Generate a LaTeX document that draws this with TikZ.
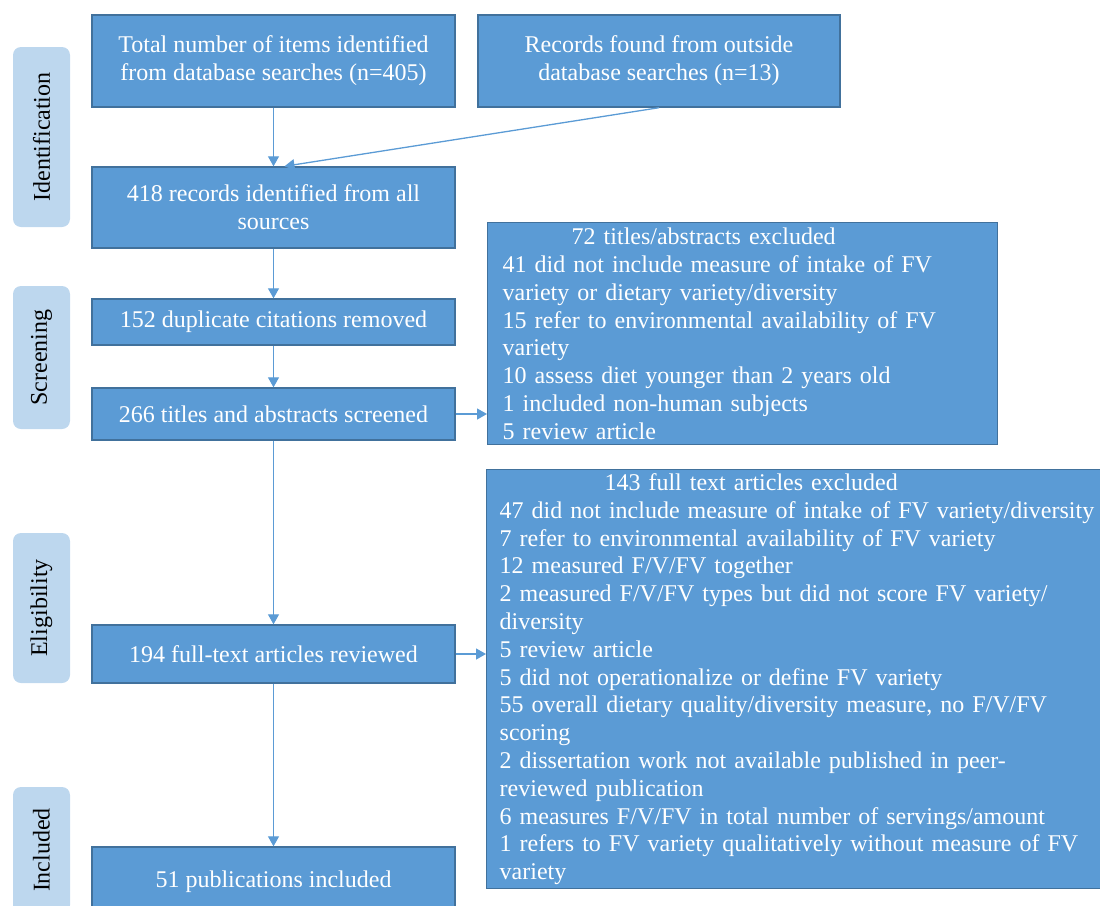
\documentclass[tikz,border=0pt]{standalone}
\usepackage{fontspec}
\setmainfont{Liberation Serif}
\usepackage{tikz}
\usetikzlibrary{arrows.meta}
\definecolor{boxcolor}{RGB}{91,155,213}
\definecolor{edgecolor}{RGB}{65,113,156}
\definecolor{stagecolor}{RGB}{189,215,238}
\tikzset{
  box/.style={draw=edgecolor, line width=1.4pt, fill=boxcolor, text=white, align=center,
    minimum width=363, inner sep=0pt, font=\fontsize{24}{27.8}\selectfont},
  excl/.style={draw=edgecolor, line width=1.4pt, fill=boxcolor, text=white, align=left,
    anchor=north west, inner ysep=0pt, font=\fontsize{24}{27.8}\selectfont},
  stage/.style={fill=stagecolor, rounded corners=8pt, minimum width=57, inner sep=0pt},
  stagetext/.style={rotate=90, font=\fontsize{24}{27.8}\selectfont},
  flow/.style={draw=boxcolor, line width=1.3pt, -{Triangle[width=11pt,length=10pt]}}
}

\begin{document}
\begin{tikzpicture}[x=1pt, y=-1pt]
\useasboundingbox (0,0) rectangle (1100,905);

% Stage labels on the left
\def\stagex{41.5}
\node[stage, minimum height=180] (sid) at (\stagex,137) {};
\node[stagetext] (tid) at (sid.center) {Identification};
\node[stage, minimum height=143] (sscr) at (\stagex,357.5) {};
\node[stagetext] (tscr) at (sscr.center) {Screening};
\node[stage, minimum height=150] (selg) at (\stagex,608) {};
\node[stagetext] (telg) at (selg.center) {Eligibility};
\node[stage, minimum height=126] (sinc) at (\stagex,850) {};
\node[stagetext] (tinc) at (sinc.center) {Included};

% Main column
\def\mainx{273.5}
\node[box, minimum height=92] (total) at (\mainx,61) {Total number of items identified\\from database searches (n=405)};
\node[box, minimum height=92, minimum width=362] (outside) at (659,61) {Records found from outside\\database searches (n=13)};
\node[box, minimum height=81] (allsrc) at (\mainx,207.5) {418 records identified from all\\sources};
\node[box, minimum height=46] (dupl) at (\mainx,322) {152 duplicate citations removed};
\node[box, minimum height=52] (screen) at (\mainx,414) {266 titles and abstracts screened};
\node[box, minimum height=58] (fulltext) at (\mainx,654) {194 full-text articles reviewed};
\node[box, minimum height=70] (incl) at (\mainx,882) {51 publications included};

% Exclusion boxes
\node[excl, inner xsep=15pt, text width=480pt, minimum width=510, minimum height=222] (exclabs) at (487,222)
  {\makebox[402pt]{72 titles/abstracts excluded}\\
   41 did not include measure of intake of FV\\
   variety or dietary variety/diversity\\
   15 refer to environmental availability of FV\\
   variety\\
   10 assess diet younger than 2 years old\\
   1 included non-human subjects\\
   5 review article};
\node[excl, inner xsep=13pt, text width=600pt, minimum width=626, minimum height=419] (exclfull) at (486,469)
  {\makebox[503pt]{143 full text articles excluded}\\
   47 did not include measure of intake of FV variety/diversity\\
   7 refer to environmental availability of FV variety\\
   12 measured F/V/FV together\\
   2 measured F/V/FV types but did not score FV variety/\\
   diversity\\
   5 review article\\
   5 did not operationalize or define FV variety\\
   55 overall dietary quality/diversity measure, no F/V/FV\\
   scoring\\
   2 dissertation work not available published in peer-\\
   reviewed publication\\
   6 measures F/V/FV in total number of servings/amount\\
   1 refers to FV variety qualitatively without measure of FV\\
   variety};

% Arrows
\draw[flow] (total) -- (allsrc);
\draw[flow] (outside.south) -- ([xshift=11pt]allsrc.north);
\draw[flow] (allsrc) -- (dupl);
\draw[flow] (dupl) -- (screen);
\draw[flow] (screen) -- (fulltext);
\draw[flow] (fulltext) -- (incl);
\draw[flow] (screen.east) -- (screen.east -| exclabs.west);
\draw[flow] (fulltext.east) -- (fulltext.east -| exclfull.west);

\end{tikzpicture}
\end{document}
